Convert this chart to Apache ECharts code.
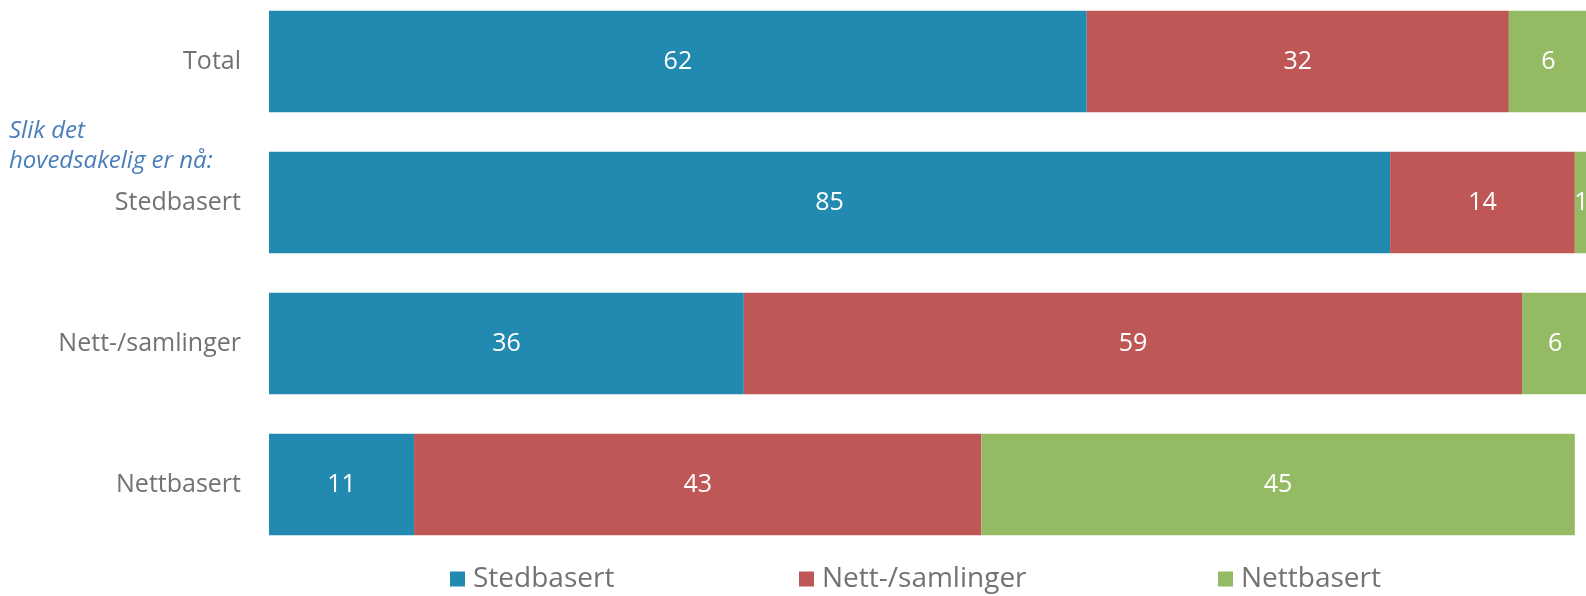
<!DOCTYPE html>
<html>
<head>
<meta charset="utf-8">
<script src="https://cdn.jsdelivr.net/npm/echarts@6/dist/echarts.min.js"></script>
<style>
  html, body { margin: 0; padding: 0; background: #fff; }
  #chart { width: 1586px; height: 596px; }
</style>
</head>
<body>
<div id="chart"></div>
<script>
// kategorier (ovenfra og ned)
var categories = ['Total', 'Stedbasert', 'Nett-/samlinger', 'Nettbasert'];
var seriesNames = ['Stedbasert', 'Nett-/samlinger', 'Nettbasert'];
var stedbasert = [62, 85, 36, 11];
var nettSamlinger = [32, 14, 59, 43];
var nettbasert = [6, 1, 6, 45];
var colors = ['#228AB1', '#BE5756', '#94BB64'];

var myChart = echarts.init(document.getElementById('chart'));
var font = '"Open Sans", sans-serif';

function makeSeries(name, data, color) {
    return {
        name: name,
        type: 'bar',
        stack: 'tot',
        barCategoryGap: '28%',
        itemStyle: { color: color },
        label: {
            show: true,
            position: 'inside',
            color: '#fff',
            fontSize: 25,
            fontFamily: font
        },
        data: data
    };
}

// en legende per serie, plassert som i originalen
var legendLeft = [445, 794, 1213];
var legends = [];
for (var i = 0; i < seriesNames.length; i++) {
    legends.push({
        left: legendLeft[i],
        top: 560,
        itemWidth: 15,
        itemHeight: 15,
        icon: 'rect',
        textStyle: { fontSize: 28, color: '#767171', fontFamily: font, padding: [0, 0, 0, 3] },
        data: [seriesNames[i]]
    });
}

var option = {
    animation: false,
    color: colors,
    grid: {
        left: 269,
        top: -9,
        width: 1319,
        height: 564,
        outerBoundsMode: 'none'
    },
    legend: legends,
    xAxis: {
        type: 'value',
        min: 0,
        max: 100,
        show: false
    },
    yAxis: {
        type: 'category',
        inverse: true,
        data: categories,
        axisLine: { show: false },
        axisTick: { show: false },
        axisLabel: {
            margin: 28,
            fontSize: 25,
            color: '#767171',
            fontFamily: font
        }
    },
    graphic: [{
        type: 'text',
        left: 9,
        top: 116,
        style: {
            text: 'Slik det\nhovedsakelig er nå:',
            fill: '#4A7EBB',
            font: 'italic 24px ' + font,
            lineHeight: 30
        }
    }],
    series: [
        makeSeries(seriesNames[0], stedbasert, colors[0]),
        makeSeries(seriesNames[1], nettSamlinger, colors[1]),
        makeSeries(seriesNames[2], nettbasert, colors[2])
    ]
};

option && myChart.setOption(option);
</script>
</body>
</html>
